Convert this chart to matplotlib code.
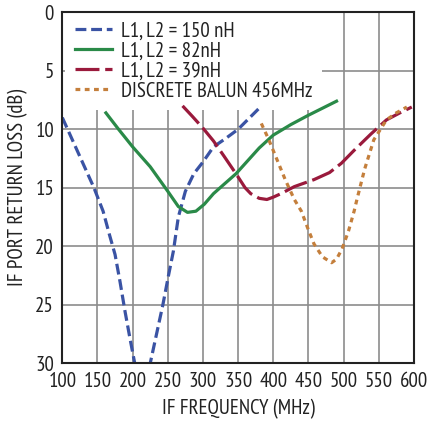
import matplotlib
matplotlib.use("Agg")
import matplotlib.pyplot as plt

# data (frequency MHz, return loss dB)
freq_150 = [100, 115, 130, 145, 158, 167, 175, 182, 189, 196, 203, 214, 225, 234, 243, 251, 258, 265, 275, 287, 300, 315, 332, 350, 365, 380]
loss_150 = [9.0, 11.0, 13.0, 15.0, 17.0, 19.0, 20.7, 23.0, 25.5, 27.8, 30.0, 32.5, 30.0, 27.5, 25.0, 22.5, 20.4, 17.5, 15.3, 13.8, 12.8, 11.5, 10.8, 10.0, 9.1, 8.2]

freq_82 = [162, 180, 200, 225, 250, 265, 278, 290, 302, 315, 330, 347, 365, 380, 400, 425, 450, 470, 490]
loss_82 = [8.6, 10.0, 11.5, 13.2, 15.3, 16.6, 17.1, 17.0, 16.4, 15.5, 14.7, 13.8, 12.6, 11.6, 10.5, 9.6, 8.8, 8.2, 7.6]

freq_39 = [271, 285, 300, 315, 330, 347, 360, 368, 380, 391, 400, 411, 430, 458, 480, 497, 515, 539, 561, 580, 597]
loss_39 = [8.0, 8.9, 9.9, 11.0, 12.3, 13.8, 15.0, 15.5, 15.9, 16.0, 15.8, 15.5, 14.9, 14.3, 13.7, 12.9, 11.8, 10.4, 9.2, 8.6, 8.1]

freq_bal = [383, 393, 404, 417, 430, 440, 450, 458, 470, 483, 490, 498, 507, 515, 519, 530, 543, 561, 575, 590]
loss_bal = [9.5, 10.8, 12.4, 14.3, 16.0, 17.0, 18.6, 19.8, 20.9, 21.4, 21.1, 20.2, 18.7, 17.0, 16.0, 13.4, 10.9, 9.2, 8.6, 8.1]

labels = ["L1, L2 = 150 nH", "L1, L2 = 82nH", "L1, L2 = 39nH", "DISCRETE BALUN 456MHz"]

plt.rcParams['font.family'] = ['PT Sans Narrow', 'Roboto Condensed', 'Liberation Sans', 'DejaVu Sans']

fig = plt.figure(figsize=(4.28, 4.22), dpi=100)
ax = fig.add_axes([0.1456, 0.139, 0.967 - 0.1456, 0.971 - 0.139])

# lines above the legend box so their ends are not hidden
ax.plot(freq_150, loss_150, color="#3a53a4", lw=2.3, dashes=(3.4, 1.5), label=labels[0], zorder=6)
ax.plot(freq_82, loss_82, color="#2a8a48", lw=2.3, label=labels[1], zorder=6)
ax.plot(freq_39, loss_39, color="#9a1a3c", lw=2.3, dashes=(7.5, 1.8), label=labels[2], zorder=6)
ax.plot(freq_bal, loss_bal, color="#c47f3c", lw=2.3, dashes=(1.5, 1.4), label=labels[3], zorder=6)

ax.set_xlim(100, 600)
ax.set_ylim(30, 0)
ax.set_xticks(range(100, 601, 50))
ax.set_yticks(range(0, 31, 5))
ax.grid(True, color="#8c8c8c", lw=1.2)
ax.set_axisbelow(True)
ax.tick_params(length=0, labelsize=15, colors="#222222", pad=6)
for s in ax.spines.values():
    s.set_color("#222222")
    s.set_linewidth(1.5)
    s.set_zorder(7)

ax.set_xlabel("IF FREQUENCY (MHz)", fontsize=15, color="#222222", labelpad=6)
ax.set_ylabel("IF PORT RETURN LOSS (dB)", fontsize=15, color="#222222", labelpad=5)

leg = ax.legend(loc="upper left", bbox_to_anchor=(0.009, 1.0), fontsize=15, frameon=True,
                fancybox=False, borderaxespad=0, handlelength=1.8, handletextpad=0.4,
                labelspacing=0.05, borderpad=0.45)
leg.get_frame().set_facecolor("white")
leg.get_frame().set_edgecolor("none")
leg.get_frame().set_alpha(1)
for t in leg.get_texts():
    t.set_color("#222222")

fig.savefig("out.png", dpi=100, facecolor="white")
